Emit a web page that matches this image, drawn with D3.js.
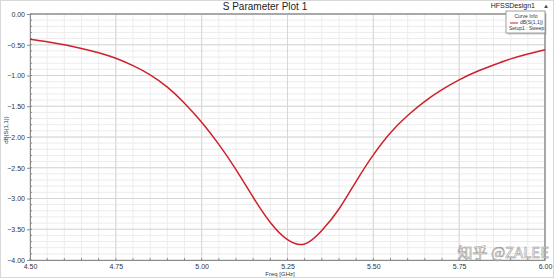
<!DOCTYPE html>
<html>
<head>
<meta charset="utf-8">
<script src="https://cdn.jsdelivr.net/npm/d3@7"></script>
<style>
body{margin:0;background:#fff;}
svg{font-family:Arial,"Liberation Sans",sans-serif;display:block;}
</style>
</head>
<body>
<div id="viz"></div>
<script>
// frequency sweep, GHz
var freq = [4.50,4.55,4.60,4.65,4.70,4.75,4.80,4.85,4.90,4.95,5.00,5.05,5.10,5.15,5.20,5.25,5.30,5.35,5.40,5.45,5.50,5.55,5.60,5.65,5.70,5.75,5.80,5.85,5.90,5.95,6.00];
// dB(S(1,1))
var s11 = [-0.41,-0.45,-0.50,-0.56,-0.63,-0.72,-0.84,-0.99,-1.19,-1.45,-1.76,-2.12,-2.53,-2.98,-3.39,-3.67,-3.74,-3.52,-3.17,-2.72,-2.29,-1.93,-1.65,-1.42,-1.23,-1.07,-0.94,-0.83,-0.73,-0.65,-0.58];
var xTicks = [4.50,4.75,5.00,5.25,5.50,5.75,6.00];
var yTicks = [0,-0.5,-1,-1.5,-2,-2.5,-3,-3.5,-4];

var W = 554, H = 278;
var margin = {top: 14, right: 9, bottom: 18, left: 30};
var width = W - margin.left - margin.right,
    height = H - margin.top - margin.bottom;

var svg = d3.select("#viz").append("svg")
    .attr("width", W)
    .attr("height", H);

svg.append("rect")
    .attr("x", 0.5).attr("y", 0.5)
    .attr("width", W-1).attr("height", H-1)
    .attr("fill", "#fff").attr("stroke", "#d8d8d8");

var x = d3.scaleLinear().domain([4.5, 6.0]).range([0, width]),
    y = d3.scaleLinear().domain([-4, 0]).range([height, 0]);

var g = svg.append("g")
    .attr("transform", "translate(" + margin.left + "," + margin.top + ")");

// minor grid
g.append("g").selectAll("line")
    .data(d3.range(4.5, 6.0001, 0.05))
  .enter().append("line")
    .attr("x1", function(d){return x(d)}).attr("x2", function(d){return x(d)})
    .attr("y1", 0).attr("y2", height)
    .attr("stroke", "#ececec").attr("stroke-width", 1);
g.append("g").selectAll("line")
    .data(d3.range(-4, 0.0001, 0.1))
  .enter().append("line")
    .attr("y1", function(d){return y(d)}).attr("y2", function(d){return y(d)})
    .attr("x1", 0).attr("x2", width)
    .attr("stroke", "#ececec").attr("stroke-width", 1);
// major grid
g.append("g").selectAll("line")
    .data(xTicks)
  .enter().append("line")
    .attr("x1", function(d){return x(d)}).attr("x2", function(d){return x(d)})
    .attr("y1", 0).attr("y2", height)
    .attr("stroke", "#d6d6d6");
g.append("g").selectAll("line")
    .data(yTicks)
  .enter().append("line")
    .attr("y1", function(d){return y(d)}).attr("y2", function(d){return y(d)})
    .attr("x1", 0).attr("x2", width)
    .attr("stroke", "#d6d6d6");

// frame
g.append("line").attr("x1", 0).attr("x2", width).attr("y1", 0).attr("y2", 0)
    .attr("stroke", "#a8a8a8").attr("stroke-width", 2);
g.append("line").attr("x1", width).attr("x2", width).attr("y1", 0).attr("y2", height)
    .attr("stroke", "#a8a8a8").attr("stroke-width", 2);

// axes
var yAxis = d3.axisLeft(y).tickValues(yTicks).tickFormat(d3.format(".2f")).tickSize(3);
var xAxis = d3.axisBottom(x).tickValues(xTicks).tickFormat(d3.format(".2f")).tickSize(0);

var ya = g.append("g").call(yAxis);
var xa = g.append("g").attr("transform", "translate(0," + height + ")").call(xAxis);
[ya, xa].forEach(function(a){
  a.select(".domain").attr("stroke", "#8a8a8a");
  a.selectAll(".tick line").attr("stroke", "#8a8a8a");
  a.selectAll("text").attr("fill", "#333").style("font-size", "7px");
});
xa.selectAll("text").attr("dy", "0.9em");
ya.selectAll("text").attr("x", -5);

// minor ticks
g.append("g").selectAll("line")
    .data(d3.range(-4, 0.0001, 0.1))
  .enter().append("line")
    .attr("x1", 0).attr("x2", 2)
    .attr("y1", function(d){return y(d)}).attr("y2", function(d){return y(d)})
    .attr("stroke", "#8a8a8a");
g.append("g").selectAll("line")
    .data(d3.range(4.5, 6.0001, 0.05))
  .enter().append("line")
    .attr("x1", function(d){return x(d)}).attr("x2", function(d){return x(d)})
    .attr("y1", height).attr("y2", height-2)
    .attr("stroke", "#8a8a8a");

// curve
var line = d3.line()
    .x(function(d, i){return x(freq[i])})
    .y(function(d){return y(d)})
    .curve(d3.curveNatural);
g.append("path")
    .datum(s11)
    .attr("d", line)
    .attr("fill", "none")
    .attr("stroke", "#d0202a")
    .attr("stroke-width", 1.5);

// titles
svg.append("text")
    .attr("x", 265).attr("y", 10)
    .attr("text-anchor", "middle")
    .style("font-size", "10px").attr("fill", "#222")
    .text("S Parameter Plot 1");
svg.append("text")
    .attr("x", 535).attr("y", 8)
    .attr("text-anchor", "end")
    .style("font-size", "7px").attr("fill", "#222")
    .text("HFSSDesign1");
svg.append("text")
    .attr("x", 546).attr("y", 8)
    .attr("text-anchor", "middle")
    .style("font-size", "6px").attr("fill", "#444")
    .text("▲");
svg.append("text")
    .attr("x", 8).attr("y", 130)
    .attr("transform", "rotate(-90,8,130)")
    .attr("text-anchor", "middle")
    .style("font-size", "6px").attr("fill", "#333")
    .text("dB(S(1,1))");
svg.append("text")
    .attr("x", 280).attr("y", 276)
    .attr("text-anchor", "middle")
    .style("font-size", "6px").attr("fill", "#333")
    .text("Freq [GHz]");

// legend
var lg = svg.append("g").attr("transform", "translate(506,11)");
lg.append("rect").attr("x", 1.5).attr("y", 1.5).attr("width", 39).attr("height", 22)
    .attr("fill", "#999").attr("opacity", 0.5);
lg.append("rect").attr("width", 39).attr("height", 22)
    .attr("fill", "#fff").attr("stroke", "#888").attr("stroke-width", 0.8);
lg.append("text").attr("x", 20).attr("y", 6.5).attr("text-anchor", "middle")
    .style("font-size", "5px").attr("fill", "#333").text("Curve Info");
lg.append("line").attr("x1", 4).attr("x2", 12).attr("y1", 12).attr("y2", 12)
    .attr("stroke", "#d0202a").attr("stroke-width", 1);
lg.append("text").attr("x", 37).attr("y", 13).attr("text-anchor", "end")
    .style("font-size", "5px").attr("fill", "#333").text("dB(S(1,1))");
lg.append("text").attr("x", 3).attr("y", 19).attr("text-anchor", "start")
    .style("font-size", "5px").attr("fill", "#333").text("Setup1 : Sweep");

// watermark
svg.append("text")
    .attr("x", 549).attr("y", 258)
    .attr("text-anchor", "end")
    .style("font-family", "'Noto Sans CJK SC',sans-serif")
    .style("font-size", "15px")
    .attr("fill", "#ffffff").attr("fill-opacity", 0.7)
    .attr("stroke", "#9a9a9a").attr("stroke-width", 0.6)
    .text("知乎 @ZALEE");
</script>
</body>
</html>
